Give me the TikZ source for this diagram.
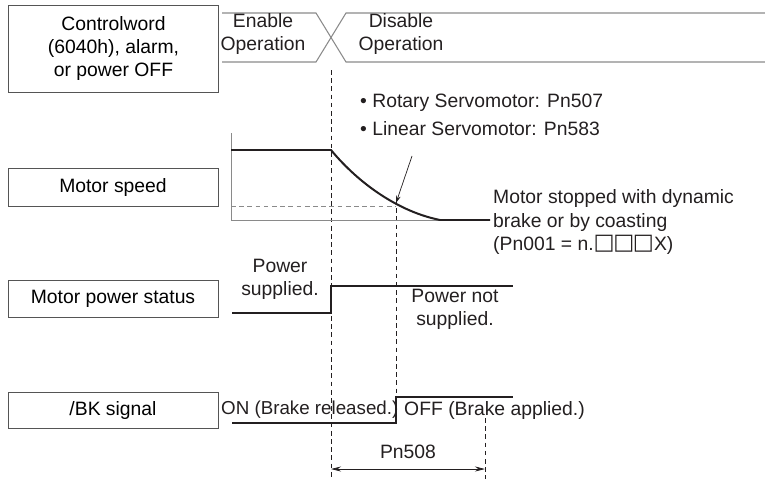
\documentclass[tikz,border=0pt]{standalone}
\usepackage{fontspec}
\setmainfont{Liberation Sans}
\newfontfamily\symfont{DejaVu Sans}
\usetikzlibrary{arrows.meta,positioning}
\definecolor{tdInk}{HTML}{231F20}
\definecolor{tdGrey}{HTML}{8A8A8A}
\definecolor{tdFrame}{HTML}{555555}

\begin{document}
\begin{tikzpicture}[x=0.03cm,y=-0.03cm,font=\fontsize{16.5}{19.8}\selectfont,
  lbox/.style={draw=tdFrame,line width=0.7pt,minimum width=6.3cm,
    minimum height=#1,align=center,inner sep=0pt},
  txt/.style={inner sep=0pt,align=center,text=tdInk},
  sig/.style={tdInk,line width=1.7pt},
  bus/.style={tdGrey,line width=0.9pt},
  axisln/.style={tdGrey,line width=0.8pt},
  guide/.style={tdInk,line width=0.6pt,dash pattern=on 4pt off 3pt},
  ann/.style={-{Stealth[length=2.2mm,width=1.4mm]},tdInk,line width=0.6pt},
  span/.style={{Stealth[length=3mm,width=1.5mm]}-{Stealth[length=3mm,width=1.5mm]},tdInk,line width=0.6pt}]
\useasboundingbox (0,0) rectangle (765,479);
% signal names
\node[lbox=2.61cm] (cw) at (113.5,48.5) {Controlword\\(6040h), alarm,\\or power OFF};
\node[lbox=1.14cm] (spd) at (113,187) {Motor speed};
\node[lbox=1.11cm] (pwr) at (113,298.5) {Motor power status};
\node[lbox=1.08cm] (bk) at (113,410) {/BK signal};
% time marks
\coordinate (t0) at (331,70);
\coordinate (t1) at (396,200);
\coordinate (t2) at (485,418);
\draw[guide] (t0) -- (t0 |- 0,479);
\draw[guide] (t1) -- (t1 |- 0,400);
\draw[guide] (t2) -- (t2 |- 0,479);
% controlword state
\draw[bus] (222,13) -- (316,13) -- (346,62) -- (765,62);
\draw[bus] (222,62) -- (316,62) -- (346,13) -- (765,13);
\node[txt] (en) at (263,34) {Enable\\Operation};
\node[txt] (dis) at (401,34) {Disable\\Operation};
% motor speed
\draw[axisln] (231,133) -- (231,220) -- (440,220);
\draw[guide,tdGrey] (231,206) -- (t1 |- 0,206);
\draw[sig] (231,150) -- (331,150) .. controls (360,185) and (400,212) .. (440,220) -- (490,220);
\node[txt,align=left,anchor=west] (pn) at (360,115) {\textbullet\ Rotary Servomotor: Pn507\\[0.15cm]\textbullet\ Linear Servomotor: Pn583};
\coordinate (decel) at (396,203);
\draw[ann] (412,156) -- (decel);
\node[txt,align=left,anchor=west] (stop) at (493,222) {Motor stopped with dynamic\\brake or by coasting\\(Pn001 = n.{\symfont\fontsize{19}{19}\selectfont\raisebox{0.4pt}{□\kern-1.2pt□\kern-1.2pt□}}X)};
% motor power
\draw[sig] (232,313) -- (331,313) -- (331,286) -- (513,286);
\node[txt] (on) at (280,279) {Power\\supplied.};
\node[txt] (off) at (455,309) {Power not\\supplied.};
% brake signal
\draw[sig] (232,423) -- (396,423) -- (396,397) -- (513,397);
\node[txt,anchor=west,font=\fontsize{16}{19}\selectfont] (rel) at (221,410) {ON (Brake released.)};
\node[txt,anchor=west] (app) at (404,410) {OFF (Brake applied.)};
% brake delay
\draw[span] (331,469) -- node[txt,above=0.3cm] (dly) {Pn508} (485,469);
\end{tikzpicture}
\end{document}
